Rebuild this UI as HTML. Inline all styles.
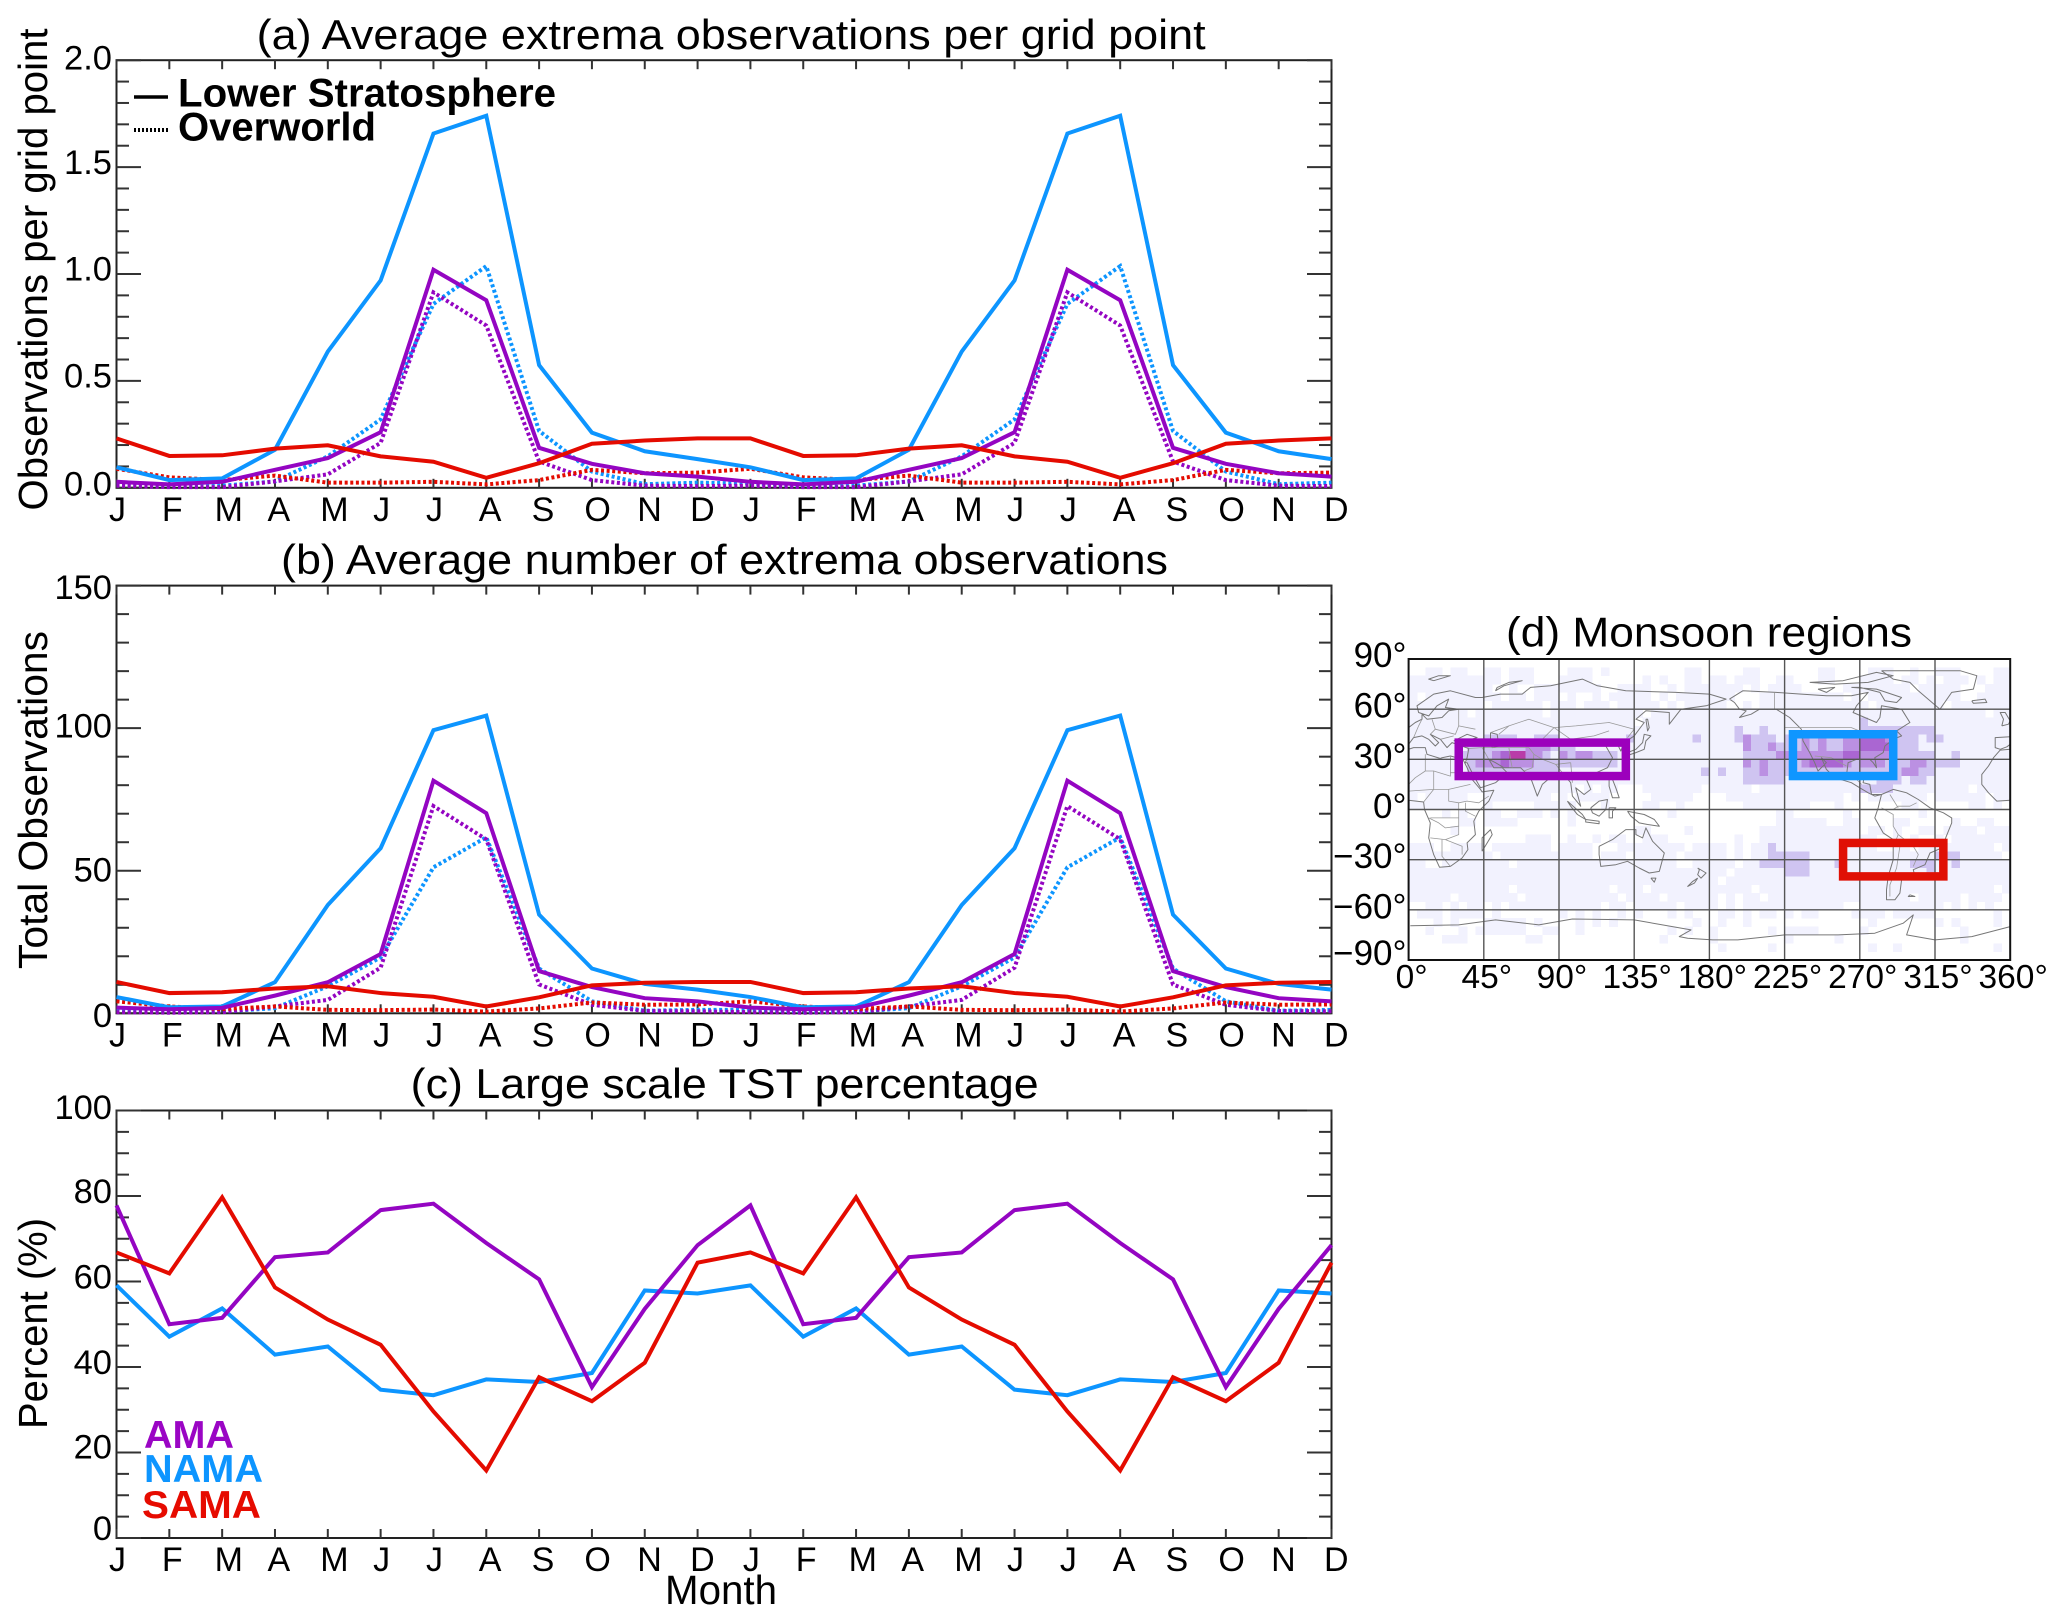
<!DOCTYPE html>
<html lang="en">
<head>
<meta charset="utf-8">
<title>Monsoon extrema observations</title>
<style>
html,body{margin:0;padding:0;background:#fff;}
svg{display:block;}
text{font-family:"Liberation Sans",sans-serif;fill:#000;}
</style>
</head>
<body>
<svg id="fig" xmlns="http://www.w3.org/2000/svg" width="2067" height="1624" viewBox="0 0 2067 1624">
  <rect x="0" y="0" width="2067" height="1624" fill="#fff"/>
  <defs><clipPath id="mapClip"><rect x="1408.6" y="659" width="601.6" height="301"/></clipPath></defs>

  <text x="256.7" y="49" font-size="42" textLength="949" lengthAdjust="spacingAndGlyphs">(a) Average extrema observations per grid point</text>
  <text x="281" y="573.8" font-size="42" textLength="887" lengthAdjust="spacingAndGlyphs">(b) Average number of extrema observations</text>
  <text x="410.7" y="1098" font-size="42" textLength="628" lengthAdjust="spacingAndGlyphs">(c) Large scale TST percentage</text>
  <text x="1506" y="646.7" font-size="42" textLength="406" lengthAdjust="spacingAndGlyphs">(d) Monsoon regions</text>

  <text transform="translate(47,510.5) rotate(-90)" font-size="41" textLength="482" lengthAdjust="spacingAndGlyphs">Observations per grid point</text>
  <text transform="translate(47,969) rotate(-90)" font-size="41" textLength="338" lengthAdjust="spacingAndGlyphs">Total Observations</text>
  <text transform="translate(47,1429) rotate(-90)" font-size="41" textLength="211" lengthAdjust="spacingAndGlyphs">Percent (%)</text>
  <text x="665" y="1604" font-size="41" textLength="112" lengthAdjust="spacingAndGlyphs">Month</text>

  <g id="panels"></g>
  <g id="map"></g>

  <g>
    <line x1="134" y1="97" x2="168" y2="97" stroke="#000" stroke-width="3.5"/>
    <text x="178" y="106.5" font-size="40" font-weight="bold" textLength="378" lengthAdjust="spacingAndGlyphs">Lower Stratosphere</text>
    <line x1="134" y1="130" x2="168" y2="130" stroke="#000" stroke-width="4" stroke-dasharray="2 2"/>
    <text x="178" y="140.3" font-size="40" font-weight="bold" textLength="198" lengthAdjust="spacingAndGlyphs">Overworld</text>
  </g>
  <g font-size="39" font-weight="bold">
    <text x="144" y="1447.8" style="fill:#9a05c4" textLength="90" lengthAdjust="spacingAndGlyphs">AMA</text>
    <text x="144" y="1481.8" style="fill:#0d95ff" textLength="119" lengthAdjust="spacingAndGlyphs">NAMA</text>
    <text x="142" y="1518" style="fill:#e60b00" textLength="119" lengthAdjust="spacingAndGlyphs">SAMA</text>
  </g>
</svg>

<script>
// ---------- chart data ----------
const months = ['J','F','M','A','M','J','J','A','S','O','N','D'];
const yearsShown = 2;

const aTicks = ['0.0','0.5','1.0','1.5','2.0'];
const aNamaSolid = [0.096,0.036,0.044,0.178,0.637,0.97,1.657,1.74,0.574,0.258,0.171,0.134];
const aAmaSolid  = [0.028,0.016,0.028,0.084,0.139,0.26,1.02,0.877,0.187,0.112,0.068,0.052];
const aSamaSolid = [0.231,0.149,0.152,0.183,0.199,0.147,0.122,0.047,0.115,0.206,0.221,0.231];
const aNamaDot   = [0.02,0.01,0.01,0.03,0.147,0.32,0.86,1.037,0.266,0.076,0.017,0.024];
const aAmaDot    = [0.01,0.003,0.003,0.03,0.063,0.21,0.914,0.759,0.123,0.036,0.01,0.008];
const aSamaDot   = [0.089,0.049,0.036,0.057,0.024,0.024,0.028,0.016,0.036,0.084,0.068,0.071];

const bTicks = ['0','50','100','150'];
const bNamaSolid = [5.7,2.1,2.4,10.9,38,57.9,99.3,104.4,34.6,15.7,10.3,8.3];
const bAmaSolid  = [2,1.4,1.9,6.2,10.9,20.8,81.6,70.2,14.8,9.2,5.3,4.2];
const bSamaSolid = [11,7.1,7.4,8.7,9.5,7.1,5.8,2.4,5.6,9.8,10.7,11];
const bNamaDot   = [1.2,0.6,0.6,1.8,9.5,19.6,51.2,61.7,15.7,4.2,0.9,1.2];
const bAmaDot    = [0.4,0.2,0.4,2.4,4.7,16,72.7,61,10.1,3,0.8,0.7];
const bSamaDot   = [4.2,2.4,1.5,2.4,1.2,1.1,1.3,0.6,1.7,3.8,3,3.1];

const cTicks = ['0','20','40','60','80','100'];
const cAma  = [77.8,50,51.5,65.7,66.8,76.7,78.2,69,60.5,35.3,53.6,68.5];
const cNama = [59.1,47.1,53.7,42.9,44.8,34.7,33.4,37.1,36.5,38.6,57.9,57.2];
const cSama = [66.8,61.9,79.7,58.6,51.1,45.2,29.6,15.8,37.6,32,41,64.4];

const mapLatTicks = [90,60,30,0,-30,-60,-90];
const mapLonTicks = [0,45,90,135,180,225,270,315,360];

// heatmap levels on a 5 degree grid, north to south. "." = no observations
// west half: 0E-175E
const heatRowsWest = [
"....................................",
"..11.11..11.111....111.1.........11.",
"11111111111.111...1111......1.1..11.",
"1111111111..1..11111111..1111..1.111",
"1.111111111.11.111.1..1.11111.1.1111",
"111111111.111111.111.111.11111.1.111",
"1111111.11111111.11111111111.1111111",
"111111111111111111111111111.11111111",
"111111111111111111111111111111111111",
"111111111222211222111111112111111121",
"111111122222223332221111111111111111",
"111111222234553321323322211111111111",
"111111123334333222222222211111111111",
"111111122222222222111111111111111112",
"111111111111111111111111111111111111",
"11111111111111111111.1.11...1111111.",
"1.11111..11111111.1.1111.....11111..",
"111111...1.....11111...1....11..1...",
"....1.1..11..111.1.1...........1....",
"......11.1111......1................",
".....1.....................11....1..",
"..............111..1..1.11..111.....",
"111..1111.1111111.1111...11111111.11",
"1111111111.11111111111.111.11111.111",
"11..11111111.1111111111111111111..11",
"111111111111111111111111111111111111",
"111111111111111111111111111111111111",
"111111111111.11111111111.111.1111111",
"11111.1111111.11111111111.1111.11111",
"..11.1.11.1.11111111111.11.11111.111",
".111.1111.1.......1.1.1..1.1...1.1..",
"...1.1...11111.1....1.1.1.........1.",
"..1...1.111111..11..1..........1.1..",
"....111.......11..............1.....",
"....................................",
"...................................."
];
// east half: 180E-355E
const heatRowsEast = [
"....................................",
"....11.......11....111..1..111....11",
"11.111..11...11...1111.11.1.111.1.11",
"1111.1.1111.....11111111.11111...111",
"111...1111111111.1.11111111111..1111",
"11..1.1111111111111.11111111.1111111",
"111111111111111111111111111111111.11",
"111111111111111111211111111111111111",
"111211211111111111222222222111111111",
"111232221223232233444322212211111111",
"111132232223232233444422211111111111",
"111122223333333344333322222112111111",
"111132322223444432333222332222111111",
"121122322222222222222223322111111111",
"111122222111111111112221221111111111",
"11111.1111111111112222111111111.1111",
"..11111111111111.1.1111111.111111.11",
"....11111111...1.......11......11.1.",
"........11......1........1..........",
"........111111..11....11.....1..11..",
"......111111111111.11.1..11.1111.111",
"...1..11111111111111..1.1..1.1111111",
"11.1.112111111111111..11.111111111.1",
"11.1.112222211111111111111122211111",
"111.11222222111211111111222112111111",
"11.111111222111111111111112111111111",
"1.1111111111111111111111111111111111",
"11111.1111111111111111111111111111.1",
"1.1.11.11111111111111111.11111.1111.",
"1.1.111111111111..1111111111.1.1.1..",
".11.1.11.1.11....1111.11111.......1.",
".1..1..............1.......1.1....1.",
"1......1.1111.....1...........1.....",
"1........1.....1..............1.....",
".1.....1...........1..1...........1.",
"...................................."
];

// region outlines: lon0, lat0, lon1, lat1
const amaBox  = [30,40,130,20];
const namaBox = [230,45,290,20];
const samaBox = [260,-20,320,-40];

// map coastlines (lon, lat)
const coastlines = [
 [[0,5.5],[9,4.5],[9.5,0],[13,-8],[12,-17],[15,-27],[18.5,-34.5],[25,-34],[32,-29],[35.5,-24],[35,-20],[40,-15],[39,-7],[42,-1],[48,5],[51,11.5],[44,10.5],[43,12],[38,18],[35,25],[32.5,30],[25,32],[20,31],[19,30.5],[11,33],[10,37],[3,37],[0,36]],
 [[360,36],[354,35.5],[350,31],[347,26],[343,21],[343,15],[347,10],[352,5],[360,5.5]],
 [[360,43.5],[351,43],[351,37],[354,36],[358,37.5],[360,39]],
 [[0,39],[3,43],[8,44],[12,42],[16,38],[18,40],[13,45],[19,42],[23,37],[26,40],[36,36.5],[35,31],[34,28],[35,28],[39,20],[43,13],[52,16],[59,22],[56,25],[51,25],[48,30],[52,28],[57,25],[67,25],[73,19],[77,8],[80,15],[87,21],[92,22],[97,16],[98,8],[103,2],[100,13],[105,9],[109,12],[106,19],[110,21],[119,25],[122,31],[118,38],[121,40],[125,39],[127,35],[129,40],[135,44],[141,52],[136,54],[142,59],[156,58],[156,51],[163,60],[178,62],[190,66],[180,69],[160,70],[130,71],[113,74],[104,78],[85,74],[73,73],[68,69],[55,69],[44,67],[40,67],[25,71],[15,69],[5,62],[6,58],[12,56],[17,62],[24,66],[22,61],[30,60],[24,59],[20,55],[11,54],[8,57],[8,54],[4,52],[0,49]],
 [[27,41],[35,45],[41,43],[36,41.5],[28,41]],
 [[49,46],[53,45],[54,38],[50,37],[49,41],[49,46]],
 [[355,50],[359,51],[360,53],[357,58],[354,58],[356,54],[355,50]],
 [[337,65],[345,66],[346,64],[338,63.5],[337,65]],
 [[15,77],[25,80],[18,80],[12,78],[15,77]],
 [[52,71],[57,74],[68,77],[60,76],[53,73],[52,71]],
 [[130,32],[136,34],[141,36],[142,41],[145,44],[141,45],[140,40],[136,36],[131,34],[130,32]],
 [[142,54],[143,47],[144,49],[143,54],[142,54]],
 [[95,5],[104,-3],[106,-6],[101,-3],[97,2],[95,5]],
 [[106,-6],[114,-7],[114,-8.5],[106,-7.5],[106,-6]],
 [[109,1],[114,5],[119,6],[118,0],[114,-4],[110,-2],[109,1]],
 [[120,1],[124,1],[122,-1],[122,-5],[120,-5],[120,1]],
 [[131,-1],[141,-3],[147,-6],[150,-10],[143,-9],[138,-8],[133,-4],[131,-1]],
 [[120,18],[122,18],[124,13],[126,7],[122,7],[120,14],[120,18]],
 [[44,-25],[50,-15],[49,-12],[44,-17],[44,-25]],
 [[114,-22],[122,-18],[130,-12],[136,-12],[136,-15],[140,-17],[142,-11],[146,-19],[153,-26],[150,-37],[144,-38],[138,-35],[131,-31],[124,-33],[115,-34],[114,-27],[114,-22]],
 [[145,-41],[148,-41],[147,-43.5],[145,-41]],
 [[173,-35],[178,-38],[175,-41],[173,-39],[174,-36],[173,-35]],
 [[173,-41],[171,-44],[167,-46],[170,-43],[173,-41]],
 [[192,66],[200,71],[220,70],[235,69],[250,68],[265,68],[275,70],[268,62],[266,58],[280,52],[282,55],[283,62],[295,60],[300,52],[292,47],[295,44],[290,42],[285,38],[284,34],[279,31],[280,25],[278,28],[276,30],[268,30],[263,28],[262,20],[265,18],[270,21],[273,21],[272,16],[276,15],[277,9],[280,9],[283,9],[279,8],[275,10],[270,13],[265,16],[255,19],[250,24],[247,31],[250,28],[245,23],[243,28],[240,34],[236,41],[235,48],[228,55],[220,60],[210,60],[205,57],[198,55],[202,59],[198,60],[195,64],[192,66]],
 [[283,83],[300,83],[330,83],[340,80],[338,72],[325,70],[318,60],[312,65],[305,71],[300,76],[290,78],[283,83]],
 [[245,72],[255,73],[250,70],[245,72]],
 [[265,73],[280,72],[295,67],[292,64],[285,65],[282,70],[270,73],[265,73]],
 [[240,76],[260,77],[280,82],[290,80],[275,76],[255,75],[240,76]],
 [[283,9],[290,12],[298,10],[305,6],[312,1],[320,-2],[325,-5],[325,-8],[321,-18],[319,-23],[312,-26],[309,-33],[302,-36],[303,-40],[295,-42],[294,-50],[291,-54],[286,-54],[286,-48],[287,-40],[290,-30],[290,-18],[284,-14],[279,-5],[281,1],[283,9]],
 [[1,-69.5],[30,-69],[52,-66],[78,-69],[98,-65.5],[135,-66],[169,-72],[162,-76],[167,-77],[182,-78],[197,-78],[225,-75],[257,-75],[279,-74],[296,-68],[302,-63],[298,-75],[315,-78],[337,-76],[360,-70]],
 [[300,-51],[303,-52],[299,-52],[300,-51]]
];
// some political borders
const borders = [
 [[13,-5],[30,-5],[30,-15],[22,-18],[13,-17]],[[20,-18],[20,-28],[25,-34]],[[22,-18],[32,-22],[32,-27]],
 [[15,23],[25,20],[25,32]],[[25,22],[37,22]],[[10,33],[10,23],[15,23],[15,12],[9,4.5]],[[15,12],[24,12],[24,5],[30,4],[35,5],[42,4],[48,8]],
 [[24,12],[37,15]],[[30,4],[30,-5]],[[0,15],[4,19],[10,23]],[[0,11],[15,12]],
 [[12,-5],[18,-8],[22,-11],[30,-10]],[[34,-1],[40,-4]],[[34,-1],[34,4]],
 [[36,36.5],[44,37],[48,30]],[[44,37],[60,37],[61,30],[62,25]],[[60,37],[72,37],[75,33],[74,25],[69,23]],[[75,33],[80,30],[88,27],[97,28]],[[88,27],[92,22]],[[97,28],[98,16]],
 [[49,46],[60,50],[72,54],[87,49],[100,50],[120,52],[135,48],[131,43]],[[87,49],[80,42],[72,39]],[[87,49],[97,42],[111,44],[120,47]],[[60,50],[54,45]],
 [[30,60],[30,50],[40,48]],[[8,54],[6,50],[3,43]],[[14,54],[16,48],[13,45]],[[16,48],[28,45],[30,50]],[[19,42],[27,44]],
 [[225,49],[235,49],[265,49],[277,44],[285,45],[292,47]],[[219,60],[219,70]],[[243,32],[253,31],[262,26]],[[268,18],[271,15]],
 [[283,1],[290,-3],[290,-10],[293,-15],[302,-22],[305,-27],[302,-34]],[[293,-15],[291,-20],[294,-22],[292,-35],[288,-45],[288,-52]],[[290,0],[293,2],[300,2],[304,4]],[[288,9],[293,1]]
];

// ---------- rendering ----------
const SVGNS = 'http://www.w3.org/2000/svg';
const colors = {ama:'#9405c2', nama:'#0d95ff', sama:'#e40b00'};
const leftX = 116.5, rightX = 1331.5;
const panelsGroup = document.getElementById('panels');
const mapGroup = document.getElementById('map');

function mk(tag, parent){
  const el = document.createElementNS(SVGNS, tag);
  parent.appendChild(el);
  return el;
}
function xScale(i){
  const n = months.length * yearsShown - 1;
  return leftX + (rightX - leftX) * i / n;
}
function tickMark(parent, x1, y1, x2, y2){
  const t = mk('line', parent);
  t.setAttribute('x1', x1);
  t.setAttribute('y1', y1);
  t.setAttribute('x2', x2);
  t.setAttribute('y2', y2);
  t.setAttribute('stroke', '#333');
  t.setAttribute('stroke-width', '2');
  
  
}

function drawPanel(p){
  const g = mk('g', panelsGroup);
  
  
  const yMax = Number(p.ticks[p.ticks.length - 1]);
  const y = v => p.bottom - (p.bottom - p.top) * v / yMax;

  const frame = mk('rect', g);
  frame.setAttribute('x', leftX);
  frame.setAttribute('y', p.top);
  frame.setAttribute('width', rightX - leftX);
  frame.setAttribute('height', p.bottom - p.top);
  frame.setAttribute('fill', 'none');
  frame.setAttribute('stroke', '#222');
  frame.setAttribute('stroke-width', '2');
  
  

  // y ticks
  const step = Number(p.ticks[1]) - Number(p.ticks[0]);
  const minorStep = step / p.minorDiv;
  const count = Math.round(yMax / minorStep);
  for (let k = 0; k <= count; k++){
    const yy = y(k * minorStep);
    const len = k % p.minorDiv === 0 ? 24.5 : 12.5;
    tickMark(g, leftX, yy, leftX + len, yy);
    tickMark(g, rightX - len, yy, rightX, yy);
  }
  p.ticks.forEach((lab, idx) => {
    const t = mk('text', g);
    t.setAttribute('x', 112);
    t.setAttribute('y', y(Number(lab)) + p.nudge[idx]);
    t.setAttribute('text-anchor', 'end');
    t.setAttribute('font-size', '34.5');
    
    
    t.textContent = lab;
  });

  // x ticks
  for (let i = 0; i < months.length * yearsShown; i++){
    const xx = xScale(i);
    tickMark(g, xx, p.bottom, xx, p.bottom - 9);
    tickMark(g, xx, p.top, xx, p.top + 9);
    const t = mk('text', g);
    t.setAttribute('x', xx - 7.5);
    t.setAttribute('y', p.bottom + 33);
    t.setAttribute('font-size', '34');
    
    
    t.textContent = months[i % months.length];
  }

  // series
  p.series.forEach(s => {
    let pts = [];
    for (let yr = 0; yr < yearsShown; yr++){
      s.values.forEach((v, m) => {
        pts.push(xScale(yr * months.length + m).toFixed(2) + ',' + y(v).toFixed(2));
      });
    }
    const line = mk('polyline', g);
    line.setAttribute('points', pts.join(' '));
    line.setAttribute('fill', 'none');
    line.setAttribute('stroke', colors[s.region]);
    line.setAttribute('stroke-linejoin', 'miter');
    line.setAttribute('stroke-width', '4');
    if (s.dotted) line.setAttribute('stroke-dasharray', '3 2.6');
    
    
  });
}

drawPanel({id:'a', top:60.2, bottom:487.8, ticks:aTicks, minorDiv:5, nudge:[7.5,6.5,6.5,7,9.5], series:[
  {region:'nama',dotted:true,values:aNamaDot},{region:'ama',dotted:true,values:aAmaDot},{region:'sama',dotted:true,values:aSamaDot},
  {region:'nama',dotted:false,values:aNamaSolid},{region:'ama',dotted:false,values:aAmaSolid},{region:'sama',dotted:false,values:aSamaSolid}]});
drawPanel({id:'b', top:585.6, bottom:1013.3, ticks:bTicks, minorDiv:5, nudge:[13.5,11,9.5,13.5], series:[
  {region:'nama',dotted:true,values:bNamaDot},{region:'ama',dotted:true,values:bAmaDot},{region:'sama',dotted:true,values:bSamaDot},
  {region:'nama',dotted:false,values:bNamaSolid},{region:'ama',dotted:false,values:bAmaSolid},{region:'sama',dotted:false,values:bSamaSolid}]});
drawPanel({id:'c', top:1110.5, bottom:1538, ticks:cTicks, minorDiv:4, nudge:[2,6,7,7,7,8.3], series:[
  {region:'nama',dotted:false,values:cNama},{region:'ama',dotted:false,values:cAma},{region:'sama',dotted:false,values:cSama}]});

// ---------- map ----------
const mapL = 1408.6, mapR = 2010.2, mapT = 659, mapB = 960;
const lonX = lon => mapL + (mapR - mapL) * lon / 360;
const latY = lat => mapT + (mapB - mapT) * (90 - lat) / 180;
const heatColors = {'1':'#f2f2fe','2':'#cfc4f1','3':'#bb90e2','4':'#aa66d2','5':'#b93ca8'};

heatRowsWest.forEach((westRow, r) => {
  const row = westRow.padEnd(36, '.').slice(0, 36) + heatRowsEast[r].padEnd(36, '.').slice(0, 36);
  for (let c = 0; c < 72; c++){
    const lvl = row[c];
    if (!heatColors[lvl]) continue;
    const cell = mk('rect', mapGroup);
    cell.setAttribute('x', lonX(c * 5).toFixed(2));
    cell.setAttribute('y', latY(90 - r * 5).toFixed(2));
    cell.setAttribute('width', ((mapR - mapL) / 72 + 0.3).toFixed(2));
    cell.setAttribute('height', ((mapB - mapT) / 36 + 0.3).toFixed(2));
    cell.setAttribute('fill', heatColors[lvl]);
    cell.setAttribute('shape-rendering', 'crispEdges');
    
    
  }
});

function drawOutline(points, stroke, width, name){
  const pl = mk('polyline', mapGroup);
  pl.setAttribute('points', points.map(q => lonX(q[0]).toFixed(1) + ',' + latY(q[1]).toFixed(1)).join(' '));
  pl.setAttribute('fill', 'none');
  pl.setAttribute('stroke', stroke);
  pl.setAttribute('stroke-width', width);
  pl.setAttribute('stroke-linejoin', 'round');
  pl.setAttribute('clip-path', 'url(#mapClip)');
  
  
}
coastlines.forEach(c => drawOutline(c, '#777', '1', 'coastline'));
borders.forEach(c => drawOutline(c, '#999', '0.8', 'country-border'));

// graticule
mapLonTicks.slice(1, -1).forEach(lon => {
  const l = mk('line', mapGroup);
  l.setAttribute('x1', lonX(lon));
  l.setAttribute('x2', lonX(lon));
  l.setAttribute('y1', mapT);
  l.setAttribute('y2', mapB);
  l.setAttribute('stroke', '#555');
  l.setAttribute('stroke-width', '1.4');
  
  
});
mapLatTicks.slice(1, -1).forEach(lat => {
  const l = mk('line', mapGroup);
  l.setAttribute('x1', mapL);
  l.setAttribute('x2', mapR);
  l.setAttribute('y1', latY(lat));
  l.setAttribute('y2', latY(lat));
  l.setAttribute('stroke', '#555');
  l.setAttribute('stroke-width', '1.4');
  
  
});

// region boxes
[[amaBox,'#9c00bc','ama-region-box'],[namaBox,'#0f96ff','nama-region-box'],[samaBox,'#e01005','sama-region-box']].forEach(b => {
  const box = b[0];
  const rect = mk('rect', mapGroup);
  rect.setAttribute('x', lonX(box[0]));
  rect.setAttribute('y', latY(box[1]));
  rect.setAttribute('width', lonX(box[2]) - lonX(box[0]));
  rect.setAttribute('height', latY(box[3]) - latY(box[1]));
  rect.setAttribute('fill', 'none');
  rect.setAttribute('stroke', b[1]);
  rect.setAttribute('stroke-width', '8.5');
  
  
});

const mapFrame = mk('rect', mapGroup);
mapFrame.setAttribute('x', mapL);
mapFrame.setAttribute('y', mapT);
mapFrame.setAttribute('width', mapR - mapL);
mapFrame.setAttribute('height', mapB - mapT);
mapFrame.setAttribute('fill', 'none');
mapFrame.setAttribute('stroke', '#111');
mapFrame.setAttribute('stroke-width', '2');



mapLatTicks.forEach(lat => {
  const t = mk('text', mapGroup);
  t.setAttribute('x', 1406.5);
  t.setAttribute('y', latY(lat) + (lat === 90 ? 8 : lat === -90 ? 5 : 8.5));
  t.setAttribute('text-anchor', 'end');
  t.setAttribute('font-size', '35');
  
  
  t.textContent = (lat < 0 ? '\u2212' + (-lat) : lat) + '\u00b0';
});
mapLonTicks.forEach(lon => {
  const t = mk('text', mapGroup);
  t.setAttribute('x', lonX(lon) + 3);
  t.setAttribute('y', 988);
  t.setAttribute('text-anchor', 'middle');
  t.setAttribute('font-size', '33.5');
  
  
  t.textContent = lon + '\u00b0';
});
</script>
</body>
</html>
